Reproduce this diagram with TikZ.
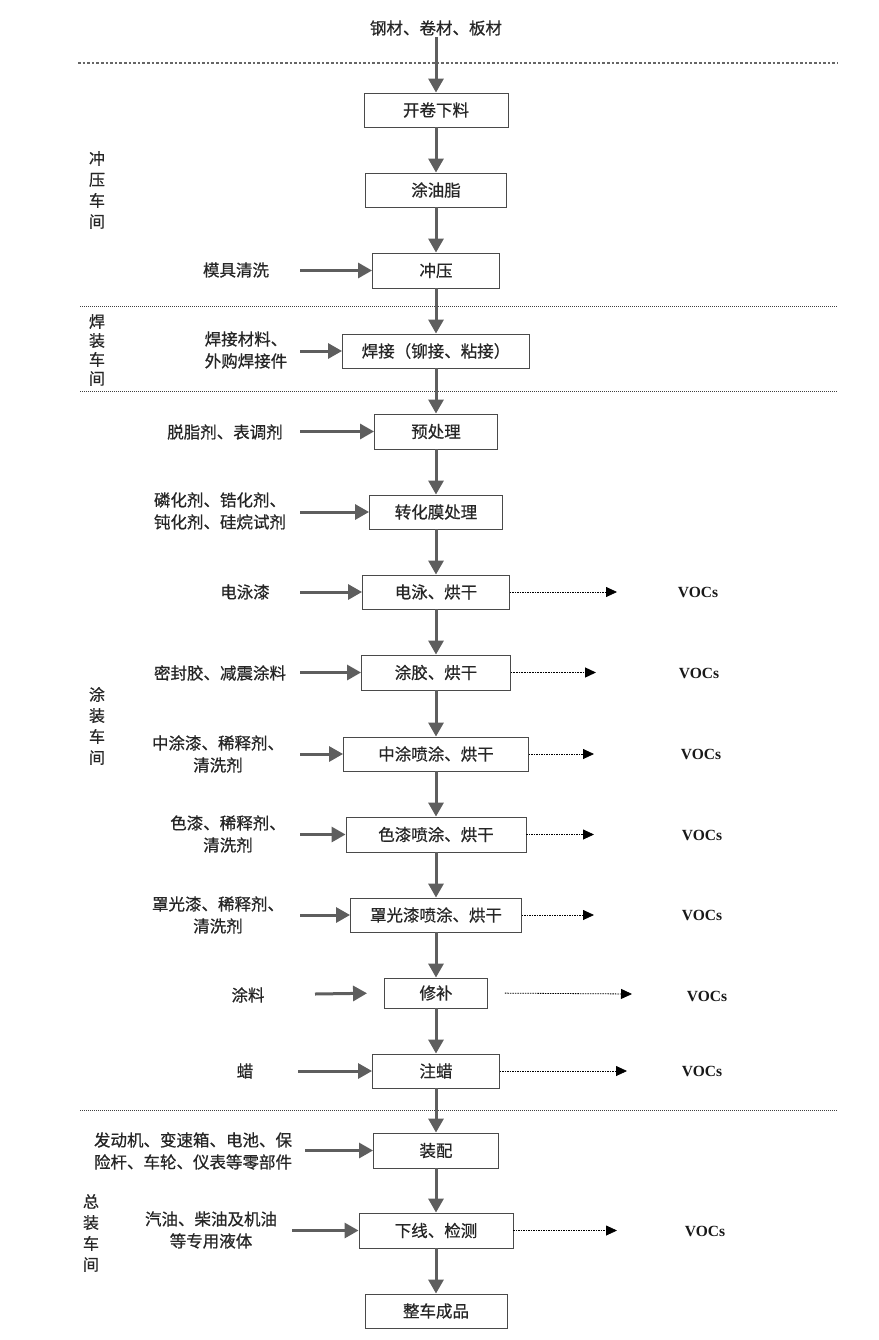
\documentclass[tikz,border=0pt]{standalone}
\usepackage{fontspec}
\setmainfont{Noto Sans CJK SC}[FakeBold=0.7]
\newfontfamily\vocfont{Liberation Serif}
\usetikzlibrary{arrows.meta}
\definecolor{arrgray}{HTML}{5E5E5E}
\definecolor{boxgray}{HTML}{4A4A4A}
\tikzset{
  x=1pt, y=-1pt,
  every node/.style={font=\fontsize{16.5}{22}\selectfont, text=black!85},
  proc/.style={draw=boxgray, line width=0.9pt, inner sep=0pt, align=center},
  flow/.style={draw=arrgray, line width=3pt, -{Triangle[length=14pt,width=15pt]}},
  vocarrow/.style={draw=black, line width=0.8pt, dash pattern=on 1.5pt off 1pt, -{Triangle[length=11pt,width=10pt]}},
  voc/.style={font=\vocfont\bfseries\fontsize{15.5}{18}\selectfont, text=black!90},
  sep/.style={draw=black!75, line width=0.6pt, dash pattern=on 1pt off 1pt},
  wsp/.style={align=center, font=\fontsize{16}{21}\selectfont},
  inp/.style={align=center},
}
\begin{document}
\begin{tikzpicture}
\useasboundingbox (0,0) rectangle (878,1340);

% separators
\draw[draw=black!60, line width=1.6pt, dash pattern=on 2.6pt off 2pt] (78,63) -- (838,63);
\draw[sep] (80,306) -- (838,306);
\draw[sep] (80,391) -- (838,391);
\draw[sep] (80,1110) -- (838,1110);

% workshop labels
\node[wsp] (ws1) at (97,190) {冲\\压\\车\\间};
\node[wsp, font=\fontsize{16}{19}\selectfont] (ws2) at (97,350) {焊\\装\\车\\间};
\node[wsp] (ws3) at (97,726) {涂\\装\\车\\间};
\node[wsp] (ws4) at (91,1233) {总\\装\\车\\间};

% top
\node (top) at (436,28) {钢材、卷材、板材};

% process boxes
\node[proc, minimum width=144pt, minimum height=34pt] (p1) at (436,110) {开卷下料};
\node[proc, minimum width=141pt, minimum height=34pt] (p2) at (436,190) {涂油脂};
\node[proc, minimum width=127pt, minimum height=35pt] (p3) at (436,270.5) {冲压};
\node[proc, minimum width=187pt, minimum height=34pt] (p4) at (436,351) {焊接（铆接、粘接）};
\node[proc, minimum width=123pt, minimum height=35pt] (p5) at (436,431.5) {预处理};
\node[proc, minimum width=133pt, minimum height=34pt] (p6) at (436,512) {转化膜处理};
\node[proc, minimum width=147pt, minimum height=34pt] (p7) at (436,592) {电泳、烘干};
\node[proc, minimum width=149pt, minimum height=35pt] (p8) at (436,672.5) {涂胶、烘干};
\node[proc, minimum width=185pt, minimum height=34pt] (p9) at (436,754) {中涂喷涂、烘干};
\node[proc, minimum width=180pt, minimum height=35pt] (p10) at (436,834.5) {色漆喷涂、烘干};
\node[proc, minimum width=171pt, minimum height=34pt] (p11) at (436,915) {罩光漆喷涂、烘干};
\node[proc, minimum width=103pt, minimum height=30pt] (p12) at (436,993) {修补};
\node[proc, minimum width=127pt, minimum height=34pt] (p13) at (436,1071) {注蜡};
\node[proc, minimum width=125pt, minimum height=35pt] (p14) at (436,1150.5) {装配};
\node[proc, minimum width=154pt, minimum height=35pt] (p15) at (436,1230.5) {下线、检测};
\node[proc, minimum width=142pt, minimum height=34pt] (p16) at (436,1311) {整车成品};

% main flow
\draw[flow] (top.south) ++(0,-2) coordinate (topout) (topout) -- (p1.north);
\foreach \a/\b in {p1/p2,p2/p3,p3/p4,p4/p5,p5/p6,p6/p7,p7/p8,p8/p9,p9/p10,p10/p11,p11/p12,p12/p13,p13/p14,p14/p15,p15/p16}
  \draw[flow] (\a.south) -- (\b.north);

% inputs
\node[inp] (i3) at (236,270) {模具清洗};
\coordinate (c3) at (300,270.5);
\draw[flow] (c3) -- (p3.west);

\node[inp] (i4) at (246,350) {焊接材料、\\外购焊接件};
\coordinate (c4) at (300,351);
\draw[flow] (c4) -- (p4.west);

\node[inp] (i5) at (225,432) {脱脂剂、表调剂};
\coordinate (c5) at (300,431.5);
\draw[flow] (c5) -- (p5.west);

\node[inp] (i6) at (220,511) {磷化剂、锆化剂、\\钝化剂、硅烷试剂};
\coordinate (c6) at (300,512);
\draw[flow] (c6) -- (p6.west);

\node[inp] (i7) at (245,592) {电泳漆};
\coordinate (c7) at (300,592);
\draw[flow] (c7) -- (p7.west);

\node[inp] (i8) at (220,673) {密封胶、减震涂料};
\coordinate (c8) at (300,672.5);
\draw[flow] (c8) -- (p8.west);

\node[inp] (i9) at (218,754) {中涂漆、稀释剂、\\清洗剂};
\coordinate (c9) at (300,754);
\draw[flow] (c9) -- (p9.west);

\node[inp] (i10) at (228,834) {色漆、稀释剂、\\清洗剂};
\coordinate (c10) at (300,834.5);
\draw[flow] (c10) -- (p10.west);

\node[inp] (i11) at (218,915) {罩光漆、稀释剂、\\清洗剂};
\coordinate (c11) at (300,915);
\draw[flow] (c11) -- (p11.west);

\node[inp] (i12) at (248,995) {涂料};
\coordinate (c12) at (315,994);
\draw[flow, shorten >=17pt] (c12) -- (p12.west);

\node[inp] (i13) at (245,1071) {蜡};
\coordinate (c13) at (298,1071);
\draw[flow] (c13) -- (p13.west);

\node[inp] (i14) at (193,1151) {发动机、变速箱、电池、保\\险杆、车轮、仪表等零部件};
\coordinate (c14) at (305,1150.5);
\draw[flow] (c14) -- (p14.west);

\node[inp] (i15) at (211,1230) {汽油、柴油及机油\\等专用液体};
\coordinate (c15) at (292,1230.5);
\draw[flow] (c15) -- (p15.west);

% VOCs outputs
\node[voc] (v7) at (698,592) {VOCs};
\coordinate (e7) at (617,592);
\draw[vocarrow] (p7.east) -- (e7);

\node[voc] (v8) at (699,673) {VOCs};
\coordinate (e8) at (596,672.5);
\draw[vocarrow, dash pattern=on 1pt off 0.6pt, line width=1.3pt] (p8.east) -- (e8);

\node[voc] (v9) at (701,754) {VOCs};
\coordinate (e9) at (594,754);
\draw[vocarrow] (p9.east) -- (e9);

\node[voc] (v10) at (702,835) {VOCs};
\coordinate (e10) at (594,834.5);
\draw[vocarrow] (p10.east) -- (e10);

\node[voc] (v11) at (702,915) {VOCs};
\coordinate (e11) at (594,915);
\draw[vocarrow] (p11.east) -- (e11);

\node[voc] (v12) at (707,996) {VOCs};
\coordinate (e12) at (632,994);
\draw[vocarrow, shorten <=17pt] (p12.east) -- (e12);

\node[voc] (v13) at (702,1071) {VOCs};
\coordinate (e13) at (627,1071);
\draw[vocarrow] (p13.east) -- (e13);

\node[voc] (v15) at (705,1231) {VOCs};
\coordinate (e15) at (617,1230.5);
\draw[vocarrow] (p15.east) -- (e15);
\end{tikzpicture}
\end{document}
